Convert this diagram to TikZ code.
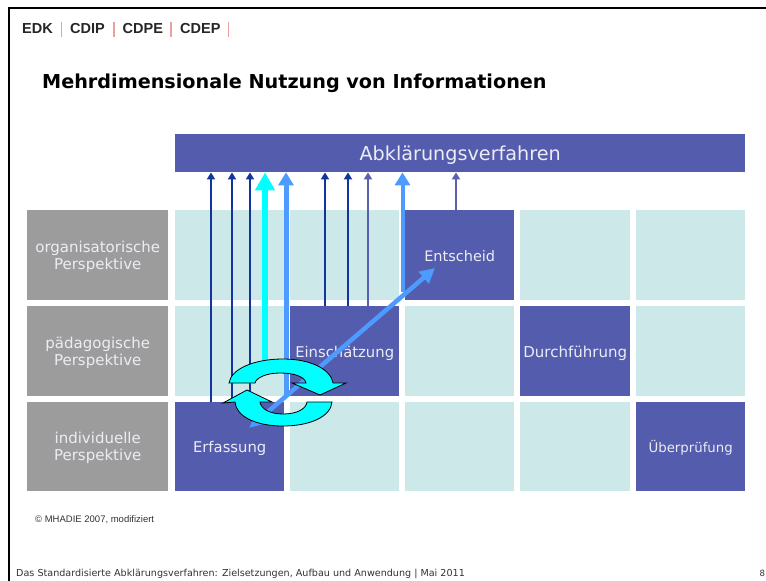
\documentclass[tikz,border=0pt]{standalone}
\usepackage{fontspec}
\setmainfont{DejaVu Sans}
\newfontfamily\arialfont{Liberation Sans}
\usetikzlibrary{arrows.meta}
\definecolor{cellteal}{HTML}{CCE8E8}
\definecolor{cellpurple}{HTML}{545CAE}
\definecolor{cellgrey}{HTML}{9C9C9C}
\definecolor{softwhite}{HTML}{ECECF4}
\definecolor{navyline}{HTML}{12349E}
\definecolor{paleline}{HTML}{5A60B0}
\definecolor{skyline}{HTML}{4D9BFF}
\definecolor{aqualine}{HTML}{00FFFF}
\definecolor{redbar}{HTML}{E8A0A0}
\newcommand\cstrut{\rule[-3pt]{0pt}{18pt}}
\newcommand\ltop{\rule{0pt}{14pt}}
\newcommand\lbot{\rule[-3pt]{0pt}{3pt}}
\tikzset{
  x=1pt,y=-1pt,
  cell/.style={draw=none,fill=cellteal,minimum height=#1,inner sep=0pt,anchor=north west},
  cell/.default=90pt,
  wcell/.style={minimum width=#1},
  purp/.style={fill=cellpurple,text=softwhite,font=\fontsize{14.8}{17}\selectfont,align=center,inner sep=0pt,anchor=north west,minimum height=90pt},
  lab/.style={fill=cellgrey,text=softwhite,font=\fontsize{15}{17}\selectfont,align=center,inner sep=0pt,anchor=north west,minimum width=141pt,minimum height=90pt},
  thinarrow/.style={draw=navyline,line width=2.1pt,-{Triangle[length=7pt,width=8pt]}},
  palearrow/.style={draw=paleline,line width=2.1pt,-{Triangle[length=7pt,width=8pt]}},
  skyarrow/.style={draw=skyline,line width=5pt,-{Triangle[length=13pt,width=15pt]}},
  aquaarrow/.style={draw=aqualine,line width=6pt,-{Triangle[length=18pt,width=19pt]}},
  headtext/.style={inner sep=0pt,anchor=base west,font=\arialfont\bfseries\fontsize{14.5}{16}\selectfont,text=black!85},
  bar/.style={draw=redbar,line width=1.5pt},
  cycle/.style={draw=black,line width=0.8pt,fill=aqualine}
}
\begin{document}
\begin{tikzpicture}
\useasboundingbox (0,0) rectangle (766,581);
\fill[white] (0,0) rectangle (766,581);
\draw[black,line width=2pt] (8.5,581) -- (8.5,7.5) -- (766,7.5);

% header
\node[headtext] (edk) at (22,33) {EDK};
\node[headtext] (cdip) at (70,33) {CDIP};
\node[headtext] (cdpe) at (122.5,33) {CDPE};
\node[headtext] (cdep) at (180,33) {CDEP};
\draw[bar] (61.7,22) -- (61.7,37);
\draw[bar] (114,22) -- (114,37);
\draw[bar] (171,22) -- (171,37);
\draw[bar] (228.5,22) -- (228.5,37);
\node[inner sep=0pt,anchor=base west,font=\bfseries\fontsize{19.2}{22}\selectfont] (title) at (42,88) {Mehrdimensionale Nutzung von Informationen};

% top bar
\node[fill=cellpurple,text=softwhite,inner sep=0pt,anchor=north west,minimum width=570pt,minimum height=38.5pt,font=\fontsize{19.2}{22}\selectfont] (top) at (175,133.5) {\rule[-3pt]{0pt}{22pt}Abklärungsverfahren};

% row labels
\node[lab] (l1) at (27,210) {\ltop organisatorische\\Perspektive\lbot};
\node[lab] (l2) at (27,306) {\ltop pädagogische\\Perspektive\lbot};
\node[lab,minimum height=89pt] (l3) at (27,402) {\ltop individuelle\\Perspektive\lbot};

% teal cells
\node[cell,wcell=109pt] (a1) at (175,210) {};
\node[cell,wcell=109pt] (b1) at (290,210) {};
\node[cell,wcell=110pt] (d1) at (520,210) {};
\node[cell,wcell=109pt] (e1) at (636,210) {};
\node[cell,wcell=109pt] (a2) at (175,306) {};
\node[cell,wcell=109pt] (c2) at (405,306) {};
\node[cell,wcell=109pt] (e2) at (636,306) {};
\node[cell=89pt,wcell=109pt] (b3) at (290,402) {};
\node[cell=89pt,wcell=109pt] (c3) at (405,402) {};
\node[cell=89pt,wcell=110pt] (d3) at (520,402) {};

% purple cells
\node[purp,minimum width=109pt,font=\fontsize{14.5}{17}\selectfont] (ent) at (405,210) {\cstrut Entscheid};
\node[purp,minimum width=109pt] (ein) at (290,306) {\cstrut Einschätzung};
\node[purp,minimum width=110pt,font=\fontsize{15}{17}\selectfont] (dur) at (520,306) {\cstrut Durchführung};
\node[purp,minimum width=109pt,minimum height=89pt] (erf) at (175,402) {\cstrut Erfassung};
\node[purp,minimum width=109pt,minimum height=89pt,font=\fontsize{13.3}{17}\selectfont] (ueb) at (636,402) {\cstrut Überprüfung};

% anchors for the vertical arrows
\foreach \n/\xx in {p/211,q/232,r/250,s/265,t/286,u/325,v/348,w/368,y/402.5,z/456}
  \coordinate (\n) at (\xx,0);
\coordinate (diagstart) at (249,428);
\coordinate (diagend) at (435,268);
\coordinate (cyanfoot) at (265,372);

\draw[thinarrow] (erf.north -| p) -- (top.south -| p);
\draw[thinarrow] (erf.north -| q) -- (top.south -| q);
\draw[thinarrow] (erf.north -| r) -- (top.south -| r);
\draw[aquaarrow] (cyanfoot) -- (top.south -| s);
\draw[skyarrow] (ein.south -| t) -- (top.south -| t);
\draw[thinarrow] (ein.north -| u) -- (top.south -| u);
\draw[thinarrow] (ein.north -| v) -- (top.south -| v);
\draw[palearrow] (ein.north -| w) -- (top.south -| w);
\draw[draw=skyline,line width=4pt,-{Triangle[length=13pt,width=15pt]}] (ent.south -| y) ++(0,-8) -- (top.south -| y);
\draw[palearrow] (ent.north -| z) -- (top.south -| z);
\draw[draw=skyline,line width=4.5pt,{Triangle[length=15pt,width=13pt]}-{Triangle[length=15pt,width=15pt]}] (diagstart) -- (diagend);

% cycle arrows
\draw[cycle] (229,383) .. controls (231,369) and (254,359) .. (283,359)
  .. controls (312,359) and (331,370) .. (333,383) -- (346,383) -- (320,395) -- (292,383) -- (306,383)
  .. controls (305,377) and (295,373) .. (280,373)
  .. controls (266,373) and (256,378) .. (255,383) -- cycle;
\draw[cycle] (332,402) .. controls (331,416) and (311,426) .. (283,426)
  .. controls (255,426) and (236,416) .. (235,402) -- (223,403) -- (247,390) -- (272,402) -- (260,402)
  .. controls (261,409) and (270,414) .. (283,414)
  .. controls (297,414) and (306,409) .. (307,402) -- cycle;

% notes
\node[inner sep=0pt,anchor=base west,font=\arialfont\fontsize{9.5}{11}\selectfont,text=black!80] (copy) at (35,522) {© MHADIE 2007, modifiziert};
\node[inner sep=0pt,anchor=base west,font=\fontsize{9.6}{11}\selectfont,text=black!80] (foot) at (16,576.5) {Das Standardisierte Abklärungsverfahren: Zielsetzungen, Aufbau und Anwendung | Mai 2011};
\node[inner sep=0pt,anchor=base west,font=\fontsize{8.6}{10}\selectfont,text=black!80] (page) at (759.5,576.5) {8};
\end{tikzpicture}
\end{document}
